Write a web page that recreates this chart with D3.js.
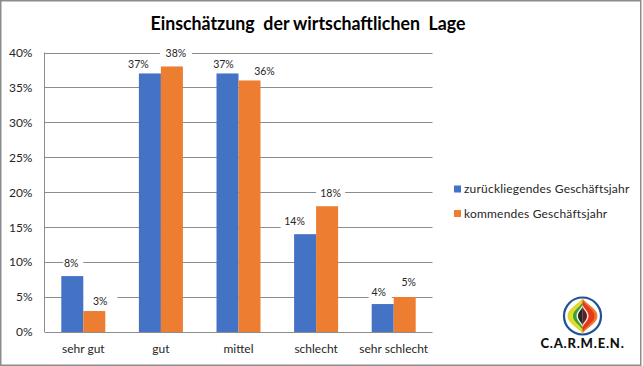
<!DOCTYPE html>
<html><head><meta charset="utf-8">
<script src="https://cdn.jsdelivr.net/npm/d3@7"></script>
<style>html,body{margin:0;padding:0;background:#fff}svg{display:block}text{font-family:Lato,"Open Sans",sans-serif;fill:#262626}</style>
</head><body><div id="c"></div>
<script>
const categories = ["sehr gut","gut","mittel","schlecht","sehr schlecht"];
const seriesNames = ["zurückliegendes Geschäftsjahr","kommendes Geschäftsjahr"];
const past = [8,37,37,14,4];
const next = [3,38,36,18,5];
const yTicks = [0,5,10,15,20,25,30,35,40];
const colors = ["#4472C4","#ED7D31"];
const title = "Einschätzung  der wirtschaftlichen  Lage";

// label placement relative to each bar: shift x, shift y, mask left, mask right
const labelLayout = [
  [[-1,-13,8,12],[-11.5,-9.5,0,0],[-4,-9.5,0,0],[-10.5,-13,14,22],[-4,-12,10,13]],
  [[6,-10,17,17],[4,-13.5,16,16],[15,-9.5,0,0],[3.5,-13,14.5,14.5],[4,-15,0,0]]
];

const W=643,H=366;
const svg=d3.select("#c").append("svg").attr("width",W).attr("height",H);
svg.append("rect").attr("x",0.75).attr("y",0.75).attr("width",640).attr("height",364.5).attr("fill","#fff").attr("stroke","#8c8c8c").attr("stroke-width",1.5);

const x=d3.scaleBand().domain(categories).range([44.5,432.5]);
const y=d3.scaleLinear().domain([0,40]).range([332,52.5]);
const bw=22;
const barX=(i,s)=>x(categories[i])+x.bandwidth()/2+(s-1)*bw;

svg.append("text").attr("x",150.5).attr("y",30)
  .attr("textLength",315).attr("lengthAdjust","spacingAndGlyphs")
  .style("font-size","19px").style("font-weight",700).style("fill","#000").style("white-space","pre").text(title);

// gridlines + baseline
const gridColor="#8c8c8c";
svg.append("g").selectAll("line").data(yTicks).join("line")
  .attr("x1",44.5).attr("x2",432.5).attr("y1",d=>Math.round(y(d))+.5).attr("y2",d=>Math.round(y(d))+.5)
  .attr("stroke",gridColor).attr("stroke-width",1);
svg.append("line").attr("x1",44.5).attr("x2",44.5).attr("y1",y(40)).attr("y2",y(0)).attr("stroke",gridColor);

const ya=svg.append("g").attr("transform","translate(44.5,0)")
  .call(d3.axisLeft(y).tickValues(yTicks).tickSize(0).tickPadding(12).tickFormat(d=>d+"%"));
ya.select(".domain").remove();
ya.selectAll("text").style("font-size","12px").style("font-family","Lato");

const xa=svg.append("g").attr("transform","translate(0,332)")
  .call(d3.axisBottom(x).tickSize(0).tickPadding(12.5));
xa.select(".domain").remove();
xa.selectAll("text").style("font-size","12px").style("font-family","Lato");

// label masks interrupt gridlines
[past,next].forEach((vals,s)=>{
  vals.forEach((d,i)=>{
    const [dx,dy,ml,mr]=labelLayout[s][i];
    if(ml+mr===0) return;
    const cx=barX(i,s)+bw/2+dx;
    svg.append("rect").attr("x",cx-ml).attr("y",y(d)+dy-7).attr("width",ml+mr).attr("height",14).attr("fill","#fff");
  });
});
// bars
[past,next].forEach((vals,s)=>{
  svg.append("g").selectAll("rect").data(vals).join("rect")
    .attr("x",(d,i)=>barX(i,s))
    .attr("y",d=>y(d)).attr("width",bw).attr("height",d=>y(0)-y(d)).attr("fill",colors[s]);
});
// data labels
[past,next].forEach((vals,s)=>{
  svg.append("g").selectAll("text").data(vals).join("text")
    .attr("x",(d,i)=>barX(i,s)+bw/2+labelLayout[s][i][0])
    .attr("y",(d,i)=>y(d)+labelLayout[s][i][1]+3.8)
    .attr("text-anchor","middle").style("font-size","10.5px").text(d=>d+"%");
});

// legend
const lg=svg.append("g");
seriesNames.forEach((n,i)=>{
  const ly=189+i*24.5;
  lg.append("rect").attr("x",454).attr("y",ly-3.5).attr("width",7).attr("height",7).attr("fill",colors[i]);
  lg.append("text").attr("x",464).attr("y",ly+4).style("font-size","12px").style("letter-spacing","0.2px").text(seriesNames[i]);
});

// logo
const logo=svg.append("g").attr("transform","translate(582.5,316)");
logo.append("circle").attr("r",18.5).attr("fill","#fff").attr("stroke","#1f4e9c").attr("stroke-width",2.2);
const half=(w,h,side,fill)=>{logo.append("path").attr("d",`M0,${-h} C${side*w*0.4},${-h*0.6} ${side*w},${-h*0.4} ${side*w},0 C${side*w},${h*0.4} ${side*w*0.4},${h*0.6} 0,${h}Z`).attr("fill",fill);};
half(15,17.5,-1,"#dcd928");half(15,17.5,1,"#ee7a30");
half(12,15.5,-1,"#e9dc2a");half(12,15.5,1,"#e5391c");
half(9.5,13.5,-1,"#3f9e3a");half(8,12,1,"#e5391c");
half(6,11,-1,"#f4f4e8");half(6,11,1,"#f4e8dc");
half(4.5,9,-1,"#1e2a20");half(4.5,9,1,"#5a1f2a");
logo.append("text").attr("x",0).attr("y",32).attr("text-anchor","middle").style("font-size","13px").style("font-weight",900).style("fill","#111").style("letter-spacing","0.8px").text("C.A.R.M.E.N.");
</script></body></html>
